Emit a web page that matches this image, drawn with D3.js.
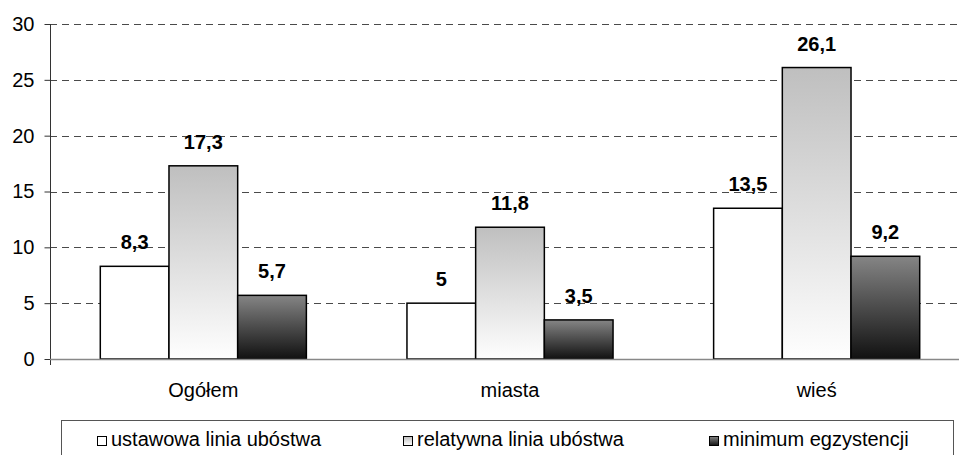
<!DOCTYPE html>
<html>
<head>
<meta charset="utf-8">
<script src="https://cdn.jsdelivr.net/npm/d3@7"></script>
<style>
  html, body { margin: 0; padding: 0; background: #fff; }
  svg { display: block; font-family: "Liberation Sans", Arial, sans-serif; }
</style>
</head>
<body>
<div id="chart"></div>
<script>
// kategorie i serie
const kategorie = ['Ogółem', 'miasta', 'wieś'];
const serie = ['ustawowa linia ubóstwa', 'relatywna linia ubóstwa', 'minimum egzystencji'];
const ustawowa = [8.3, 5, 13.5];
const relatywna = [17.3, 11.8, 26.1];
const minimum = [5.7, 3.5, 9.2];
const yTicks = [0, 5, 10, 15, 20, 25, 30];

const wartosci = [ustawowa, relatywna, minimum];
const width = 959, height = 455;

const svg = d3.select('#chart').append('svg')
  .attr('width', width)
  .attr('height', height);

const defs = svg.append('defs');
const grad = (id, top, bottom) => {
  const g = defs.append('linearGradient').attr('id', id)
    .attr('x1', 0).attr('y1', 0).attr('x2', 0).attr('y2', 1);
  g.append('stop').attr('offset', '0%').attr('stop-color', top);
  g.append('stop').attr('offset', '100%').attr('stop-color', bottom);
};
grad('g-jasny', '#bfbfbf', '#fefefe');
grad('g-ciemny', '#858585', '#111111');
const wypelnienie = ['#ffffff', 'url(#g-jasny)', 'url(#g-ciemny)'];

const y = d3.scaleLinear().domain([0, 30]).range([359, 24]);
const x = d3.scaleBand().domain(kategorie).range([50, 970])
  .paddingInner(0.328).paddingOuter(0.164);
const xs = d3.scaleBand().domain(d3.range(serie.length)).range([0, x.bandwidth()]);

// linie siatki
svg.append('g')
  .selectAll('line')
  .data(yTicks.filter(t => t > 0))
  .join('line')
  .attr('x1', 50).attr('x2', width)
  .attr('y1', d => Math.round(y(d)) + 0.5).attr('y2', d => Math.round(y(d)) + 0.5)
  .attr('stroke', '#4a4a4a')
  .attr('stroke-dasharray', '7,5');

// oś Y
const osY = svg.append('g')
  .attr('transform', 'translate(50.5,0)')
  .call(d3.axisLeft(y).tickValues(yTicks).tickSize(6).tickPadding(10).tickFormat(d3.format('d')));
osY.select('.domain').attr('stroke', '#333').attr('d', 'M0,24V365');
osY.selectAll('.tick line').attr('stroke', '#333');
osY.selectAll('.tick text')
  .attr('font-size', '20px')
  .attr('font-family', '"Liberation Sans", Arial, sans-serif')
  .attr('fill', '#000');

// słupki
const grupy = svg.append('g')
  .selectAll('g')
  .data(kategorie)
  .join('g')
  .attr('transform', d => `translate(${x(d)},0)`);

grupy.selectAll('rect')
  .data((d, i) => wartosci.map((s, j) => ({ s: j, v: s[i] })))
  .join('rect')
  .attr('x', d => xs(d.s))
  .attr('y', d => y(d.v))
  .attr('width', xs.bandwidth())
  .attr('height', d => y(0) - y(d.v))
  .attr('fill', d => wypelnienie[d.s])
  .attr('stroke', '#000')
  .attr('stroke-width', 1.5);

grupy.selectAll('text')
  .data((d, i) => wartosci.map((s, j) => ({ s: j, v: s[i] })))
  .join('text')
  .attr('x', d => xs(d.s) + xs.bandwidth() / 2)
  .attr('y', d => y(d.v) - 17)
  .attr('text-anchor', 'middle')
  .attr('font-size', '20px')
  .attr('font-weight', 'bold')
  .text(d => String(d.v).replace('.', ','));

// oś X
svg.append('line')
  .attr('x1', 50).attr('x2', width)
  .attr('y1', 359.5).attr('y2', 359.5)
  .attr('stroke', '#888')
  .attr('stroke-width', 1.5);

svg.append('g')
  .selectAll('text')
  .data(kategorie)
  .join('text')
  .attr('x', d => x(d) + x.bandwidth() / 2)
  .attr('y', 397)
  .attr('text-anchor', 'middle')
  .attr('font-size', '20px')
  .text(d => d);

// legenda
svg.append('rect')
  .attr('x', 61.5).attr('y', 420.5)
  .attr('width', 892).attr('height', 50)
  .attr('fill', '#fff')
  .attr('stroke', '#555');

const legX = [97, 403, 709];
const leg = svg.append('g')
  .selectAll('g')
  .data(serie)
  .join('g')
  .attr('transform', (d, i) => `translate(${legX[i]},436)`);

leg.append('rect')
  .attr('x', 0.5).attr('y', 0.5)
  .attr('width', 9).attr('height', 9)
  .attr('fill', (d, i) => wypelnienie[i])
  .attr('stroke', '#000');

leg.append('text')
  .attr('x', 14).attr('y', 9.5)
  .attr('font-size', '20px')
  .text(d => d);
</script>
</body>
</html>
